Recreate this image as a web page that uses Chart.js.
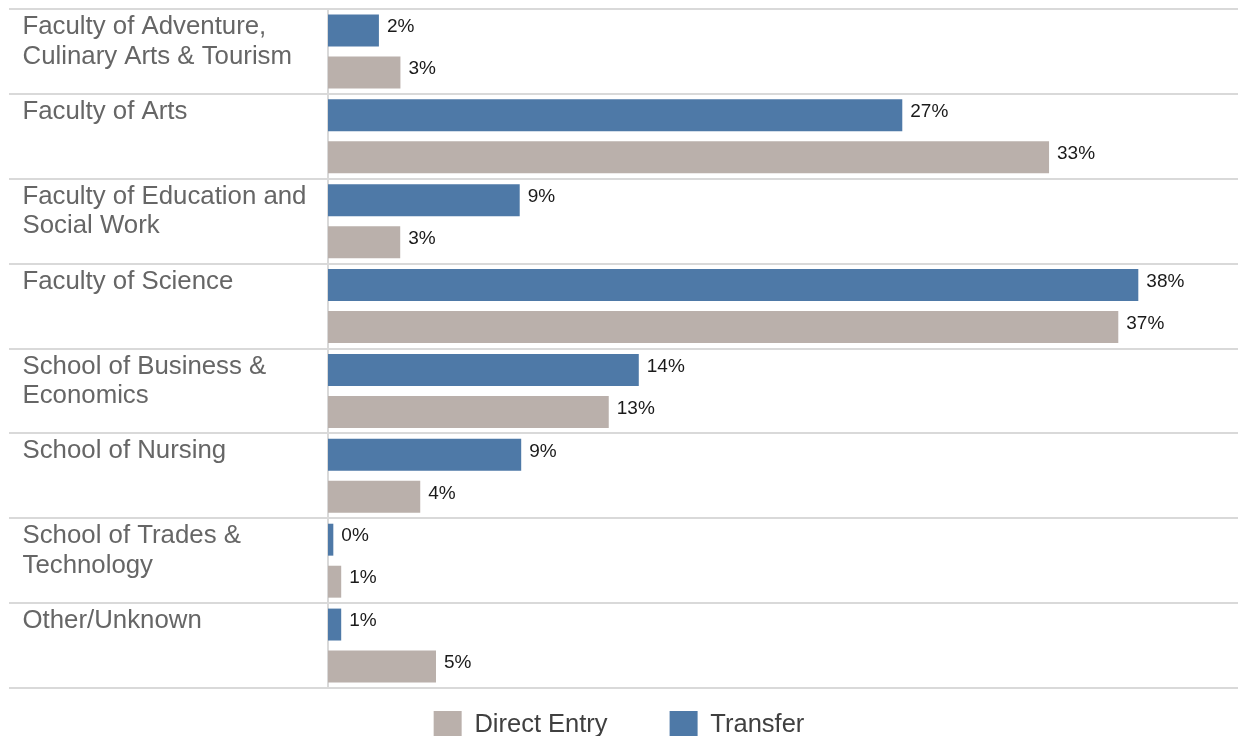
<!DOCTYPE html>
<html><head><meta charset="utf-8">
<script src="https://cdn.jsdelivr.net/npm/chart.js@4.4.1/dist/chart.umd.min.js"></script>
<style>html,body{margin:0;padding:0;overflow:hidden;background:#fff;width:1238px;height:736px}canvas{display:block}</style>
</head><body>
<canvas id="c" width="1238" height="788"></canvas>
<script>
const categories = [
  ['Faculty of Adventure,', 'Culinary Arts & Tourism'],
  ['Faculty of Arts'],
  ['Faculty of Education and', 'Social Work'],
  ['Faculty of Science'],
  ['School of Business &', 'Economics'],
  ['School of Nursing'],
  ['School of Trades &', 'Technology'],
  ['Other/Unknown']
];
const transferValues    = [2.39, 26.96, 9.0, 38.04, 14.59, 9.07, 0.25, 0.62];
const directEntryValues = [3.4, 33.85, 3.39, 37.1, 13.18, 4.33, 0.62, 5.07];
const transferLabels    = ['2%', '27%', '9%', '38%', '14%', '9%', '0%', '1%'];
const directEntryLabels = ['3%', '33%', '3%', '37%', '13%', '4%', '1%', '5%'];
const seriesNames = ['Transfer', 'Direct Entry'];
const xMax = 42.72;

const FONT = '"Liberation Sans", Arial, sans-serif';
const valueLabels = [transferLabels, directEntryLabels];

const yLabelPlugin = {
  id: 'yLabels',
  afterDraw(chart) {
    const s = chart.scales.y, ctx = chart.ctx;
    const band = (s.bottom - s.top) / categories.length;
    ctx.save();
    ctx.font = '25.8px ' + FONT;
    ctx.fillStyle = '#666666';
    ctx.textBaseline = 'middle';
    ctx.textAlign = 'left';
    categories.forEach((lines, i) => {
      const top = s.getPixelForValue(i) - band / 2;
      lines.forEach((t, j) => ctx.fillText(t, 22.5, top + 18 + j * 29.5));
    });
    ctx.restore();
  }
};

const dataLabelPlugin = {
  id: 'dataLabels',
  afterDatasetsDraw(chart) {
    const ctx = chart.ctx;
    ctx.save();
    ctx.font = '19px ' + FONT;
    ctx.fillStyle = '#1a1a1a';
    ctx.textBaseline = 'middle';
    ctx.textAlign = 'left';
    chart.data.datasets.forEach((ds, di) => {
      const meta = chart.getDatasetMeta(di);
      meta.data.forEach((el, i) => {
        ctx.fillText(valueLabels[di][i], el.x + 8, el.y - 3.5);
      });
    });
    ctx.restore();
  }
};

const legendShift = {
  id: 'legendShift',
  afterLayout(chart) {
    const l = chart.legend;
    if (!l) return;
    const target = 711 - l.options.labels.padding;
    const dy = target - l.top;
    l.top += dy; l.bottom += dy;
  }
};

new Chart(document.getElementById('c'), {
  type: 'bar',
  data: {
    labels: categories,
    datasets: [
      { label: seriesNames[0], data: transferValues, backgroundColor: '#4e79a7', borderWidth: 0,
        categoryPercentage: 0.99, barPercentage: 0.76 },
      { label: seriesNames[1], data: directEntryValues, backgroundColor: '#bab0ab', borderWidth: 0,
        categoryPercentage: 0.99, barPercentage: 0.76 }
    ]
  },
  options: {
    indexAxis: 'y',
    responsive: false,
    animation: false,
    devicePixelRatio: 1,
    layout: { padding: { top: 9, left: 0, right: 0, bottom: 0 } },
    scales: {
      x: { display: false, min: 0, max: xMax },
      y: {
        offset: true,
        afterFit(scale) { scale.width = 328; },
        ticks: { display: false },
        grid: { offset: true, color: '#d9d9d9', lineWidth: 2, drawTicks: true, tickLength: 319, tickColor: '#d9d9d9' },
        border: { display: true, color: '#d9d9d9', width: 2 }
      }
    },
    plugins: {
      tooltip: { enabled: false },
      legend: {
        position: 'bottom',
        reverse: true,
        labels: {
          boxWidth: 28, boxHeight: 28, padding: 62,
          color: '#404040',
          font: { family: FONT, size: 25.5 }
        }
      }
    }
  },
  plugins: [yLabelPlugin, dataLabelPlugin, legendShift]
});
</script>
</body></html>
